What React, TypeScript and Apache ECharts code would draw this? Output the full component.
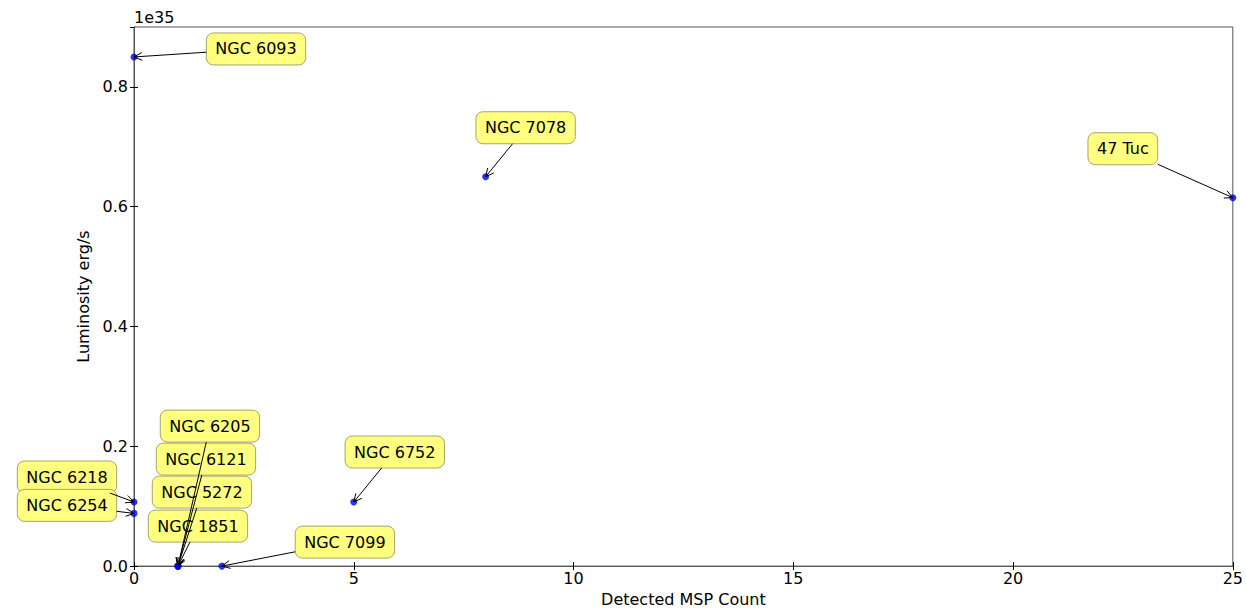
import React, { useEffect, useRef } from 'react';
import * as echarts from 'echarts';

// ---- data ----
const clusterNames = ['NGC 6093', 'NGC 7078', '47 Tuc', 'NGC 6752', 'NGC 7099', 'NGC 6218', 'NGC 6254', 'NGC 1851', 'NGC 5272', 'NGC 6121', 'NGC 6205'];
const mspCounts = [0, 8, 25, 5, 2, 0, 0, 1, 1, 1, 1];
const luminosities = [8.5e34, 6.5e34, 6.15e34, 1.07e34, 0, 1.07e34, 0.88e34, 0, 0, 0, 0];

// ---- layout: annotation box offsets (pixels, relative to the point) ----
const labelOffsets: [number, number][] = [
  [122, -8], [40, -49], [-110, -49], [41, -50], [123, -24], [-67, -25], [-67, -8], [20, -40], [24, -74], [28, -107], [32, -140],
];

const FONT_FAMILY = '"DejaVu Sans", "Liberation Sans", sans-serif';
const FONT = `16px ${FONT_FAMILY}`;

let ctx: CanvasRenderingContext2D | null = null;
function measure(text: string): number {
  if (!ctx) ctx = document.createElement('canvas').getContext('2d');
  if (!ctx) return text.length * 9;
  ctx.font = FONT;
  return ctx.measureText(text).width;
}

function boxGeom(i: number, api: any) {
  const p = api.coord([api.value(0), api.value(1)]);
  const [dx, dy] = labelOffsets[i];
  const cx = p[0] + dx;
  const cy = p[1] + dy;
  const w = measure(clusterNames[i]) + 18;
  const h = 32;
  return { p, cx, cy, w, h };
}

export default function App() {
  const ref = useRef<HTMLDivElement>(null);
  useEffect(() => {
    if (!ref.current) return;
    const chart = echarts.init(ref.current, null, { renderer: 'svg' });
    const pts = mspCounts.map((x, i) => [x, luminosities[i]]);
    const axisLine = { show: true, lineStyle: { color: '#555', width: 1 } };
    const tick = { show: true, inside: true, length: 4, lineStyle: { color: '#000' } };
    chart.setOption({
      animation: false,
      backgroundColor: '#fff',
      textStyle: { fontFamily: FONT_FAMILY },
      grid: { left: 134, right: 9, top: 27, bottom: 41, show: true, borderColor: '#555', borderWidth: 1 },
      graphic: [
        { type: 'text', left: 134, top: 9, style: { text: '1e35', font: FONT, fill: '#000' } },
      ],
      xAxis: [
        {
          type: 'value', min: 0, max: 25, interval: 5,
          name: 'Detected MSP Count', nameLocation: 'middle', nameGap: 24,
          nameTextStyle: { fontSize: 16, color: '#000', fontFamily: FONT_FAMILY },
          axisLine, axisTick: tick, splitLine: { show: false },
          axisLabel: { fontSize: 16, color: '#000', margin: 4, fontFamily: FONT_FAMILY },
        },
        {
          type: 'value', min: 0, max: 25, interval: 5, position: 'top',
          axisLine, axisTick: tick, splitLine: { show: false }, axisLabel: { show: false },
        },
      ],
      yAxis: [
        {
          type: 'value', min: 0, max: 9e34, interval: 2e34,
          name: 'Luminosity erg/s', nameLocation: 'middle', nameGap: 31,
          nameTextStyle: { fontSize: 16, color: '#000', fontFamily: FONT_FAMILY },
          axisLine, axisTick: tick, splitLine: { show: false },
          axisLabel: { fontSize: 16, color: '#000', margin: 6, fontFamily: FONT_FAMILY, showMaxLabel: false,
            formatter: (v: number) => (v > 8.5e34 ? '' : (v / 1e35).toFixed(1)) },
        },
        {
          type: 'value', min: 0, max: 9e34, interval: 2e34, position: 'right',
          axisLine, axisTick: tick, splitLine: { show: false }, axisLabel: { show: false },
        },
      ],
      series: [
        {
          type: 'scatter', data: pts, symbolSize: 7, clip: false,
          itemStyle: { color: '#0000ee' }, z: 2,
        },
        {
          type: 'custom', data: pts, encode: { x: 0, y: 1 }, clip: false, z: 3,
          renderItem: (params: any, api: any) => {
            const i = params.dataIndex;
            const { cx, cy, w, h } = boxGeom(i, api);
            return {
              type: 'group',
              children: [
                { type: 'rect', shape: { x: cx - w / 2, y: cy - h / 2, width: w, height: h, r: 7 }, style: { fill: '#ffff80', stroke: '#a5a56e', lineWidth: 1 } },
                { type: 'text', x: cx, y: cy, style: { text: clusterNames[i], font: FONT, fill: '#000', align: 'center', verticalAlign: 'middle' } },
              ],
            };
          },
        },
        {
          type: 'custom', data: pts, encode: { x: 0, y: 1 }, clip: false, z: 4,
          renderItem: (params: any, api: any) => {
            const i = params.dataIndex;
            const { p, cx, cy, w, h } = boxGeom(i, api);
            const dx = p[0] - cx;
            const dy = p[1] - cy;
            const tx = dx !== 0 ? (w / 2) / Math.abs(dx) : Infinity;
            const ty = dy !== 0 ? (h / 2) / Math.abs(dy) : Infinity;
            const t = Math.min(tx, ty);
            if (t >= 1) return { type: 'group', children: [] };
            const sx = cx + dx * t;
            const sy = cy + dy * t;
            const ang = Math.atan2(p[1] - sy, p[0] - sx);
            const hl = 9;
            const ha = 0.45;
            const a1 = [p[0] - hl * Math.cos(ang - ha), p[1] - hl * Math.sin(ang - ha)];
            const a2 = [p[0] - hl * Math.cos(ang + ha), p[1] - hl * Math.sin(ang + ha)];
            return {
              type: 'group',
              children: [
                { type: 'line', shape: { x1: sx, y1: sy, x2: p[0], y2: p[1] }, style: { stroke: '#000', lineWidth: 1 } },
                { type: 'polyline', shape: { points: [a1, [p[0], p[1]], a2] }, style: { stroke: '#000', lineWidth: 1, fill: null } },
              ],
            };
          },
        },
      ],
    });
    return () => chart.dispose();
  }, []);
  return <div ref={ref} style={{ position: 'fixed', left: 0, top: 0, width: 1246, height: 612, background: '#fff' }} />;
}
